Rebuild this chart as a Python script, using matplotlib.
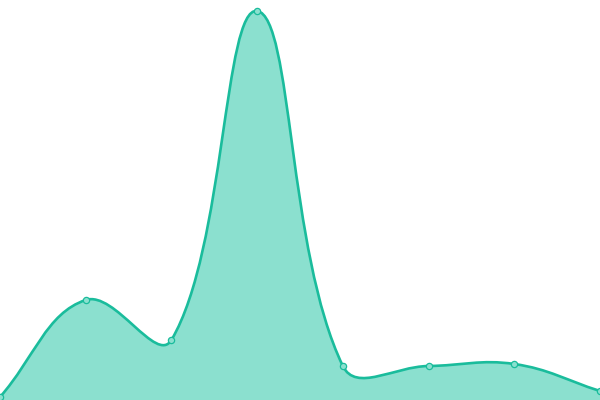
import numpy as np
import matplotlib
matplotlib.use('Agg')
import matplotlib.pyplot as plt
from matplotlib.path import Path
from matplotlib.patches import PathPatch

labels = ['A', 'B', 'C', 'D', 'E', 'F', 'G', 'H']
values = [3, 100, 60, 389, 34, 34, 36, 9]

LINE = '#1abc9c'
FILL = '#8be0cf'

fig = plt.figure(figsize=(6, 4), dpi=100)
ax = fig.add_axes([0, 0, 1, 1])
ax.set_xlim(0, len(values) - 1)
ax.set_ylim(0, 400)
ax.axis('off')

x = np.arange(len(values), dtype=float)
y = np.array(values, dtype=float)

# chart.js style spline (tension 0.4), computed in pixel space
px = ax.transData.transform(np.column_stack([x, y]))
t = 0.4
n = len(px)
cp_prev = px.copy()
cp_next = px.copy()
for i in range(n):
    prev = px[i - 1] if i > 0 else px[i]
    nxt = px[i + 1] if i < n - 1 else px[i]
    d01 = np.hypot(*(px[i] - prev))
    d12 = np.hypot(*(nxt - px[i]))
    tot = d01 + d12
    s01 = d01 / tot if tot else 0
    s12 = d12 / tot if tot else 0
    cp_prev[i] = px[i] - t * s01 * (nxt - prev)
    cp_next[i] = px[i] + t * s12 * (nxt - prev)

inv = ax.transData.inverted()
pd_ = inv.transform(px)
cpp = inv.transform(cp_prev)
cpn = inv.transform(cp_next)

verts = [pd_[0]]
codes = [Path.MOVETO]
for i in range(n - 1):
    verts += [cpn[i], cpp[i + 1], pd_[i + 1]]
    codes += [Path.CURVE4] * 3

line_path = Path(verts, codes)
fill_verts = verts + [(x[-1], 0), (x[0], 0), verts[0]]
fill_codes = codes + [Path.LINETO, Path.LINETO, Path.CLOSEPOLY]
ax.add_patch(PathPatch(Path(fill_verts, fill_codes), facecolor=FILL, edgecolor='none'))
ax.add_patch(PathPatch(line_path, facecolor='none', edgecolor=LINE, lw=1.9))
ax.plot(x, y, 'o', ms=4.5, mfc=FILL, mec=LINE, mew=0.9, clip_on=False)

fig.savefig('out.png', dpi=100)
